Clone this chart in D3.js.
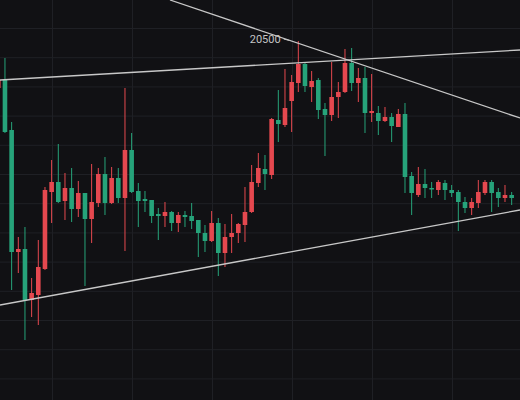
<!DOCTYPE html>
<html><head><meta charset="utf-8">
<script src="https://cdn.jsdelivr.net/npm/d3@7"></script>
<style>html,body{margin:0;padding:0;background:#111114;overflow:hidden}</style>
</head><body><svg id="c" width="520" height="400"></svg>
<script>
const opens  = [20010,20090,19590,18370,18400,17890,17940,18200,18970,19070,18880,19010,18800,18960,18700,18860,19150,18860,19110,18910,19390,18980,18900,18890,18750,18730,18770,18660,18740,18730,18690,18560,18480,18660,18360,18520,18560,18640,18770,19060,19200,19140,19690,19640,19880,20060,20250,20020,20090,19800,19740,19920,19970,20260,20060,20110,19760,19760,19680,19720,19620,19750,19130,18940,19050,19010,18990,19060,18990,18970,18870,18810,18860,18960,19070,18970,18910,18940];
const highs  = [20090,20310,19670,18520,18620,18110,18490,19020,19290,19450,19160,19210,19080,18960,19250,19210,19320,19220,19210,20010,19560,19060,18980,18890,18810,18870,18780,18770,18780,18860,18690,18640,18780,18710,18650,18750,18660,19020,19240,19360,19340,19710,19990,20200,20140,20480,20270,20180,20110,19860,20270,20070,20400,20410,20210,20220,20150,19830,19820,19760,19800,19860,19170,19220,19200,19070,19090,19090,19040,18990,18920,18910,19090,19090,19090,19010,19040,18970];
const lows   = [19990,19560,17990,18160,17490,17720,17640,18190,18660,18860,18690,18670,18720,18030,18460,18820,18740,18850,18860,18380,18960,18620,18770,18660,18490,18620,18580,18570,18620,18600,18320,18370,18470,18130,18220,18360,18460,18470,18760,19020,18990,19100,19470,19620,19570,19970,19970,19870,19700,19330,19680,19710,19960,19980,19870,19560,19670,19540,19670,19470,19620,18960,18740,18920,18910,18910,18940,18890,18920,18580,18760,18740,18810,18940,18770,18820,18870,18840];
const closes = [20090,19570,18370,18400,17890,17960,18220,18990,19070,18870,19010,18800,18960,18700,18870,19150,18860,19110,18910,19390,18970,18880,18880,18730,18730,18770,18660,18740,18720,18680,18560,18480,18660,18360,18520,18560,18650,18770,19070,19210,19150,19700,19650,19810,20070,20250,20030,20080,19790,19740,19920,19970,20260,20060,20110,19760,19780,19680,19720,19630,19750,19120,18960,19050,19010,19000,19070,18990,18960,18870,18810,18870,18970,19070,18960,18910,18940,18910];
// trendlines: [index, price] endpoints
const trendlines = [
  [[0.255,20090],[78.25,20390]],
  [[0.255,17840],[78.25,18790]],
  [[25.75,20890],[78.25,19710]]
];
const levelLabel = "20500";
const levelPrice = 20500;
const levelIndex = 44.3;

const svg = d3.select("#c");
const W=520,H=400;
const x = d3.scaleLinear().domain([0,77]).range([-1.7,-1.7+6.667*77]);
const y = d3.scaleLinear().domain([20890,16890]).range([0,400]);

// grid
const g = svg.append("g");
[52,132,212,292,372,452].forEach(v=>g.append("line").attr("x1",v+0.5).attr("x2",v+0.5).attr("y1",0).attr("y2",H).attr("stroke","#1f2025").attr("stroke-width",1));
for(let k=0;k<14;k++){const v=28.5+29.2*k;g.append("line").attr("x1",0).attr("x2",W).attr("y1",v).attr("y2",v).attr("stroke","#1f2025").attr("stroke-width",1);}

const up="#e5484f", dn="#26a37a";
const data = opens.map((o,i)=>({i,o,h:highs[i],l:lows[i],c:closes[i]}));
const cg = svg.append("g");
cg.selectAll("line.w").data(data).join("line")
  .attr("x1",d=>x(d.i)).attr("x2",d=>x(d.i))
  .attr("y1",d=>y(d.h)).attr("y2",d=>y(d.l))
  .attr("stroke",d=>d.c>=d.o?up:dn).attr("stroke-width",1);
cg.selectAll("rect").data(data).join("rect")
  .attr("x",d=>x(d.i)-2.3).attr("width",4.6)
  .attr("y",d=>y(Math.max(d.o,d.c)))
  .attr("height",d=>Math.max(1.5,Math.abs(y(d.o)-y(d.c))))
  .attr("fill",d=>d.c>=d.o?up:dn);

const line = d3.line().x(d=>x(d[0])).y(d=>y(d[1]));
svg.append("g").selectAll("path").data(trendlines).join("path")
  .attr("d",line).attr("fill","none").attr("stroke","#c8c8c8").attr("stroke-width",1.3);

svg.append("text").attr("x",x(levelIndex)-13).attr("y",y(levelPrice)+4)
  .attr("text-anchor","end").attr("font-family","Roboto, sans-serif").attr("font-size",11)
  .attr("fill","#c4c4c4").text(levelLabel);
svg.append("line").attr("x1",x(levelIndex)-10).attr("x2",x(levelIndex)-4)
  .attr("y1",y(levelPrice)).attr("y2",y(levelPrice)+1.5).attr("stroke","#c4c4c4").attr("stroke-width",1);
</script></body></html>
